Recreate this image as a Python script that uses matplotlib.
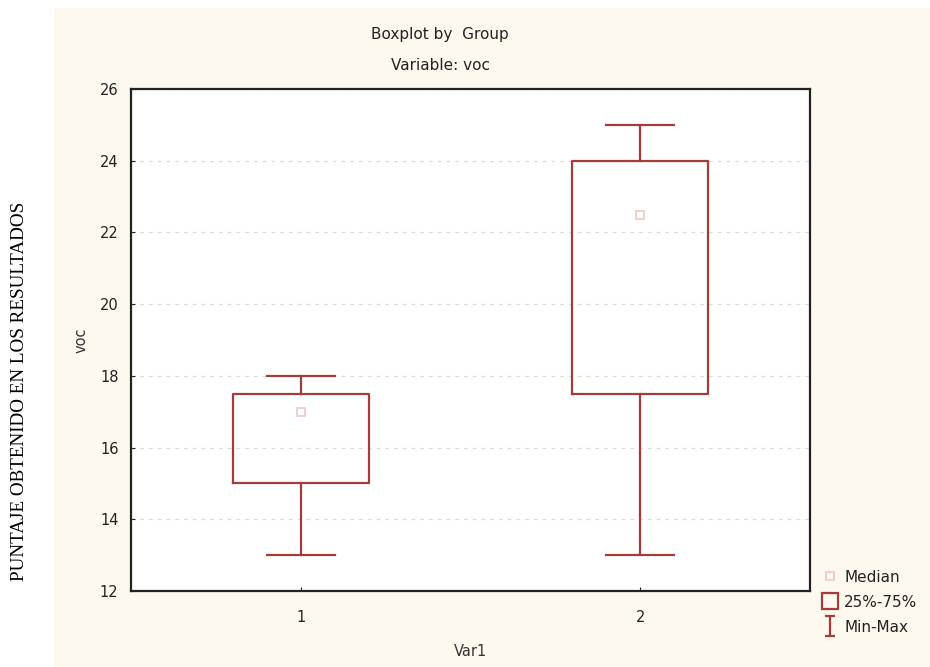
import matplotlib
matplotlib.use('Agg')
import matplotlib.pyplot as plt
from matplotlib.lines import Line2D
from matplotlib.path import Path
from matplotlib.patches import Rectangle

# values
groups = [1, 2]
medians = [17.0, 22.5]
q1 = [15.0, 17.5]
q3 = [17.5, 24.0]
mins = [13.0, 13.0]
maxs = [18.0, 25.0]
y_ticks = [12, 14, 16, 18, 20, 22, 24, 26]

BOX_COLOR = '#a43c3c'
MED_COLOR = '#eac9c9'
BG = '#fdf9ef'

plt.rcParams['font.family'] = ['DejaVu Sans']

fig = plt.figure(figsize=(9.3, 6.67), dpi=100)
fig.patch.set_facecolor('white')
fig.patches.append(Rectangle((54 / 930, 0), 1 - 54 / 930, 1 - 8 / 667,
                             transform=fig.transFigure, facecolor=BG,
                             edgecolor='none', zorder=-10))

ax = fig.add_axes([131 / 930, 1 - 591 / 667, 679 / 930, 502 / 667])
ax.set_facecolor('white')

stats = [dict(med=m, q1=a, q3=b, whislo=lo, whishi=hi, fliers=[])
         for m, a, b, lo, hi in zip(medians, q1, q3, mins, maxs)]
ax.bxp(stats, positions=groups, widths=0.4, capwidths=0.2,
       boxprops=dict(color=BOX_COLOR, lw=1.6),
       whiskerprops=dict(color=BOX_COLOR, lw=1.6),
       capprops=dict(color=BOX_COLOR, lw=1.6),
       medianprops=dict(visible=False), showfliers=False)
ax.plot(groups, medians, ls='', marker='s', ms=6, mfc='none', mec=MED_COLOR, mew=1.2)

ax.set_xlim(0.5, 2.5)
ax.set_ylim(12, 26)
ax.set_yticks(y_ticks)
ax.set_xticks(groups)
ax.set_xticklabels([str(g) for g in groups])
ax.tick_params(direction='in', length=3, labelsize=10.5, colors='#222222', pad=9)
ax.tick_params(axis='x', pad=14)
ax.yaxis.grid(True, ls=(0, (3, 4)), color='#dcdcdc', lw=0.9)
ax.set_axisbelow(True)
for sp in ax.spines.values():
    sp.set_color('#222222')
    sp.set_linewidth(1.6)

ax.set_ylabel('voc', fontsize=10.5, color='#333333', labelpad=8)
ax.set_xlabel('Var1', fontsize=10.5, color='#333333', labelpad=13)

fig.text(440 / 930, 1 - 34 / 667, 'Boxplot by  Group', ha='center', va='center',
         fontsize=11, color='#222222')
fig.text(440 / 930, 1 - 65 / 667, 'Variable: voc', ha='center', va='center',
         fontsize=11, color='#222222')

fig.text(20 / 930, 1 - 391 / 667, 'PUNTAJE OBTENIDO EN LOS RESULTADOS', rotation=90,
         ha='center', va='center', fontsize=13.8, family='Liberation Serif', color='black')

# legend
ibeam = Path([(-0.5, -1), (0.5, -1), (0, -1), (0, 1), (-0.5, 1), (0.5, 1)],
             [Path.MOVETO, Path.LINETO, Path.MOVETO, Path.LINETO, Path.MOVETO, Path.LINETO])
handles = [
    Line2D([], [], ls='', marker='s', ms=6, mfc='none', mec=MED_COLOR, mew=1.2),
    Line2D([], [], ls='', marker='s', ms=12, mfc='none', mec=BOX_COLOR, mew=1.6),
    Line2D([], [], ls='', marker=ibeam, ms=14, mfc='none', mec=BOX_COLOR, mew=1.6),
]
leg = fig.legend(handles, ['Median', '25%-75%', 'Min-Max'], loc='upper left',
                 bbox_to_anchor=(815 / 930, 1 - 562 / 667), frameon=False, fontsize=11,
                 handlelength=1.0, handletextpad=0.4, labelspacing=0.65, borderpad=0)
for t in leg.get_texts():
    t.set_color('#222222')

fig.savefig('out.png', dpi=100, facecolor=fig.get_facecolor())
